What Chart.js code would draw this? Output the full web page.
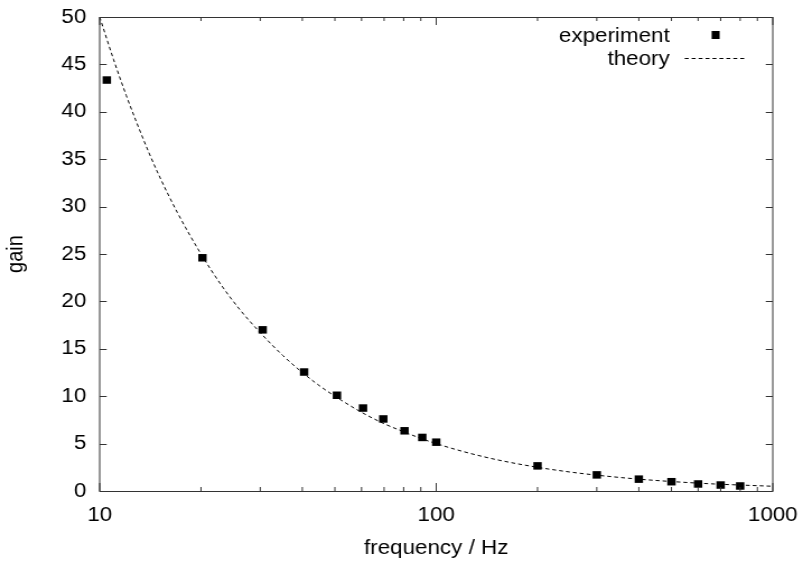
<!DOCTYPE html>
<html>
<head>
<meta charset="utf-8">
<script src="https://cdn.jsdelivr.net/npm/chart.js@4/dist/chart.umd.min.js"></script>
<style>
html, body { margin: 0; padding: 0; background: #fff; }
</style>
</head>
<body>
<!-- drawn at 717px wide and stretched to 803px, like the original picture -->
<canvas id="chart" width="717" height="563" style="display:block;width:803px;height:563px"></canvas>
<script>
// Experiment points
var expFreq = [10.5, 20.2, 30.5, 40.5, 50.7, 60.6, 69.6, 80.5, 90.9, 100, 200, 300, 400, 500, 600, 700, 800];
var expGain = [43.35, 24.6, 17.0, 12.55, 10.1, 8.75, 7.6, 6.35, 5.65, 5.15, 2.65, 1.7, 1.25, 0.98, 0.74, 0.63, 0.53];

// Theory curve, sampled from the dashed line
var theoryFreq = [10, 11, 12, 13, 14, 15, 17, 20, 23, 26, 30, 35, 40, 45, 50, 60, 70, 80, 90, 100, 120, 150, 200, 250, 300, 400, 500, 600, 700, 800, 900, 1000];
var theoryGain = [50, 45.5, 41.7, 38.5, 35.7, 33.3, 29.4, 25, 21.7, 19.2, 16.7, 14.3, 12.5, 11.1, 10, 8.3, 7.1, 6.25, 5.55, 5, 4.17, 3.33, 2.5, 2, 1.67, 1.25, 1, 0.83, 0.71, 0.63, 0.56, 0.5];

// Axis ticks
var xMajorTicks = [10, 100, 1000];
var xMinorTicks = [20, 30, 40, 50, 60, 70, 80, 90, 200, 300, 400, 500, 600, 700, 800, 900];
var yTicks = [0, 5, 10, 15, 20, 25, 30, 35, 40, 45, 50];

var STRETCH = 803 / 717;
var FAMILY = '"Liberation Sans", Arial, sans-serif';
var FONT = '20px ' + FAMILY;

function points(xs, ys) {
    return xs.map(function (x, i) { return { x: x, y: ys[i] }; });
}

// frame, inward ticks and the legend, gnuplot style
var frame = {
    id: 'frame',
    afterDraw: function (chart) {
        var ctx = chart.ctx;
        var a = chart.chartArea;
        var sx = chart.scales.x, sy = chart.scales.y;
        ctx.save();
        ctx.strokeStyle = '#333';
        ctx.lineWidth = 1;
        ctx.strokeRect(a.left, a.top + 0.5, a.right - a.left, a.bottom - a.top);
        ctx.beginPath();
        function xTick(v, len) {
            var px = sx.getPixelForValue(v);
            ctx.moveTo(px, a.bottom); ctx.lineTo(px, a.bottom - len);
            ctx.moveTo(px, a.top); ctx.lineTo(px, a.top + len);
        }
        xMajorTicks.forEach(function (v) { xTick(v, 8); });
        xMinorTicks.forEach(function (v) { xTick(v, 4); });
        yTicks.forEach(function (v) {
            var py = Math.round(sy.getPixelForValue(v)) + 0.5;
            ctx.moveTo(a.left, py); ctx.lineTo(a.left + 7 / STRETCH, py);
            ctx.moveTo(a.right, py); ctx.lineTo(a.right - 7 / STRETCH, py);
        });
        ctx.stroke();

        // legend
        ctx.fillStyle = '#000';
        ctx.font = FONT;
        ctx.textAlign = 'right';
        ctx.textBaseline = 'alphabetic';
        var tx = a.right - 92;
        ctx.fillText('experiment', tx, 42);
        ctx.fillText('theory', tx, 65);
        var s = 8;
        ctx.fillRect(a.right - 51 - s / STRETCH / 2, 35 - s / 2, s / STRETCH, s);
        ctx.strokeStyle = '#000';
        ctx.setLineDash([3.5, 2.7]);
        ctx.beginPath();
        ctx.moveTo(a.right - 78.6, 58.5);
        ctx.lineTo(a.right - 23, 58.5);
        ctx.stroke();
        ctx.restore();
    }
};

var ctx = document.getElementById('chart').getContext('2d');
var chart = new Chart(ctx, {
    type: 'scatter',
    data: {
        datasets: [{
            label: 'experiment',
            data: points(expFreq, expGain),
            showLine: false,
            pointStyle: 'rect',
            pointRadius: 5.3,
            backgroundColor: '#000',
            borderColor: '#000',
            borderWidth: 0
        }, {
            label: 'theory',
            data: points(theoryFreq, theoryGain),
            showLine: true,
            pointRadius: 0,
            borderColor: '#000',
            borderWidth: 1,
            borderDash: [3.5, 2.7],
            cubicInterpolationMode: 'monotone'
        }]
    },
    options: {
        responsive: false,
        animation: false,
        layout: { padding: { top: 17, right: 27, left: 0, bottom: 0 } },
        plugins: {
            legend: { display: false },
            tooltip: { enabled: false }
        },
        scales: {
            x: {
                type: 'logarithmic',
                min: 10,
                max: 1000,
                grid: { display: false, drawTicks: false },
                border: { display: false },
                ticks: {
                    autoSkip: false,
                    maxRotation: 0,
                    padding: 12,
                    color: '#000',
                    font: { family: FAMILY, size: 20 },
                    callback: function (v) {
                        return xMajorTicks.indexOf(v) >= 0 ? String(v) : '';
                    }
                },
                title: {
                    display: true,
                    text: 'frequency / Hz',
                    color: '#000',
                    padding: { top: 0, bottom: 3 },
                    font: { family: FAMILY, size: 20 }
                },
                afterFit: function (scale) {
                    scale.height = 72;
                    scale.paddingLeft = 0;
                    scale.paddingRight = 0;
                }
            },
            y: {
                min: 0,
                max: 50,
                grid: { display: false, drawTicks: false },
                border: { display: false },
                ticks: {
                    stepSize: 5,
                    padding: 12,
                    color: '#000',
                    font: { family: FAMILY, size: 20 }
                },
                title: {
                    display: true,
                    text: 'gain',
                    color: '#000',
                    padding: 2,
                    font: { family: FAMILY, size: 20 }
                },
                afterFit: function (scale) {
                    scale.width = 89;
                    scale.paddingTop = 0;
                    scale.paddingBottom = 0;
                }
            }
        }
    },
    plugins: [frame]
});
</script>
</body>
</html>
